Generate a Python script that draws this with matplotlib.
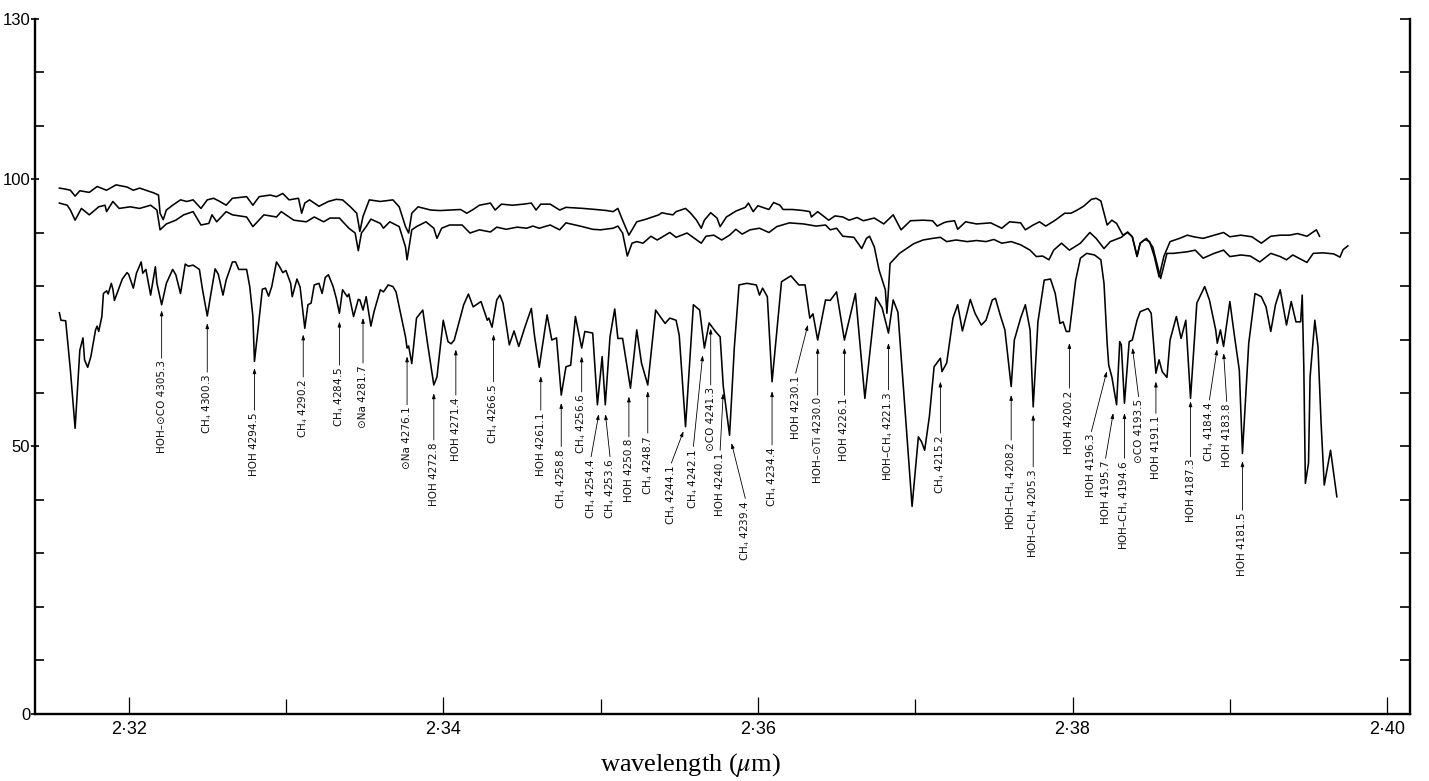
import matplotlib
matplotlib.use("Agg")
import matplotlib.pyplot as plt
from matplotlib.ticker import FuncFormatter

plt.rcParams['mathtext.fontset'] = 'stix'
plt.rcParams['font.family'] = ['Liberation Sans', 'DejaVu Sans']

# ---------------- data (wavelength in micron, relative intensity) ----------------
wl_a = [2.3156, 2.3160, 2.3163, 2.3166, 2.3169, 2.3175, 2.3180, 2.3186, 2.3192, 2.3199,
        2.3203, 2.3207, 2.3211, 2.3216, 2.3219, 2.3220, 2.3222, 2.3224, 2.3228, 2.3233,
        2.3237, 2.3241, 2.3246, 2.3250, 2.3254, 2.3258, 2.3262, 2.3266, 2.3275, 2.3279,
        2.3283, 2.3290, 2.3294, 2.3298, 2.3302, 2.3308, 2.3310, 2.3312, 2.3315, 2.3321,
        2.3327, 2.3332, 2.3336, 2.3341, 2.3345, 2.3347, 2.3349, 2.3353, 2.3360, 2.3368,
        2.3372, 2.3376, 2.3378, 2.3380, 2.3384, 2.3392, 2.3398, 2.3404, 2.3411, 2.3415,
        2.3419, 2.3423, 2.3430, 2.3433, 2.3437, 2.3444, 2.3451, 2.3456, 2.3459, 2.3462,
        2.3468, 2.3474, 2.3478, 2.3489, 2.3497, 2.3504, 2.3508, 2.3511, 2.3514, 2.3518,
        2.3523, 2.3529, 2.3537, 2.3539, 2.3542, 2.3546, 2.3548, 2.3554, 2.3557, 2.3561,
        2.3564, 2.3566, 2.3570, 2.3574, 2.3576, 2.3580, 2.3586, 2.3592, 2.3594, 2.3597,
        2.3600, 2.3607, 2.3610, 2.3614, 2.3616, 2.3622, 2.3629, 2.3633, 2.3634, 2.3638,
        2.3645, 2.3649, 2.3654, 2.3658, 2.3663, 2.3667, 2.3674, 2.3680, 2.3686, 2.3691,
        2.3697, 2.3705, 2.3711, 2.3714, 2.3718, 2.3720, 2.3725, 2.3727, 2.3732, 2.3739,
        2.3748, 2.3755, 2.3760, 2.3767, 2.3770, 2.3775, 2.3779, 2.3783, 2.3789, 2.3795,
        2.3799, 2.3803, 2.3807, 2.3812, 2.3815, 2.3818, 2.3822, 2.3825, 2.3828, 2.3832,
        2.3835, 2.3838, 2.3841, 2.3843, 2.3846, 2.3849, 2.3852, 2.3855, 2.3858, 2.3862,
        2.3868, 2.3873, 2.3877, 2.3883, 2.3890, 2.3896, 2.3900, 2.3907, 2.3914, 2.3920,
        2.3926, 2.3932, 2.3938, 2.3943, 2.3949, 2.3955, 2.3957]
val_a = [98.3, 98.1, 97.9, 96.8, 97.8, 97.5, 98.6, 97.9, 98.9, 98.5,
         97.9, 98.3, 97.9, 97.4, 97.0, 93.6, 92.4, 94.2, 95.1, 96.1,
         95.8, 96.1, 94.5, 96.1, 96.4, 95.8, 95.1, 96.4, 96.7, 95.1,
         96.7, 97.0, 96.7, 97.3, 96.1, 96.4, 93.6, 95.5, 96.1, 94.9,
         95.8, 96.2, 96.1, 94.8, 93.6, 90.2, 93.0, 96.1, 95.8, 96.1,
         94.8, 91.1, 89.9, 93.6, 94.8, 94.2, 94.1, 94.2, 94.3, 93.6,
         94.3, 95.1, 95.5, 94.2, 95.3, 95.1, 95.3, 95.5, 94.2, 95.3,
         95.3, 94.2, 94.7, 94.5, 94.3, 94.1, 93.9, 94.5, 92.3, 89.5,
         92.0, 92.5, 93.3, 93.7, 93.5, 93.3, 93.9, 94.5, 93.7, 92.3,
         90.8, 92.3, 93.7, 92.7, 91.1, 92.9, 94.0, 94.7, 95.5, 93.9,
         95.0, 94.3, 95.6, 95.1, 94.3, 94.3, 94.1, 93.9, 92.9, 93.9,
         92.3, 93.1, 92.9, 92.3, 92.8, 92.2, 92.7, 91.6, 93.3, 90.5,
         92.2, 92.3, 92.2, 91.2, 91.8, 92.0, 92.2, 90.6, 92.0, 91.6,
         91.8, 90.8, 92.0, 91.8, 90.5, 91.4, 92.0, 91.2, 92.3, 93.6,
         93.6, 94.2, 94.9, 96.2, 96.4, 95.9, 91.4, 92.3, 91.7, 89.5,
         90.0, 89.2, 85.6, 88.0, 88.7, 88.3, 85.5, 81.7, 85.5, 88.3,
         88.9, 89.5, 89.2, 88.9, 89.5, 90.0, 89.2, 89.5, 89.2, 88.0,
         89.3, 89.5, 89.5, 89.8, 89.3, 90.5, 89.3]

wl_b = [2.3156, 2.3161, 2.3163, 2.3166, 2.3170, 2.3175, 2.3181, 2.3185, 2.3186, 2.3190,
        2.3194, 2.3201, 2.3207, 2.3214, 2.3218, 2.3220, 2.3224, 2.3230, 2.3235, 2.3241,
        2.3246, 2.3251, 2.3253, 2.3256, 2.3262, 2.3266, 2.3275, 2.3279, 2.3286, 2.3294,
        2.3297, 2.3305, 2.3313, 2.3318, 2.3324, 2.3328, 2.3334, 2.3340, 2.3344, 2.3346,
        2.3348, 2.3351, 2.3354, 2.3360, 2.3362, 2.3366, 2.3372, 2.3376, 2.3377, 2.3380,
        2.3383, 2.3389, 2.3394, 2.3396, 2.3399, 2.3404, 2.3412, 2.3417, 2.3423, 2.3430,
        2.3434, 2.3440, 2.3447, 2.3453, 2.3457, 2.3461, 2.3468, 2.3474, 2.3478, 2.3487,
        2.3495, 2.3500, 2.3508, 2.3511, 2.3514, 2.3517, 2.3520, 2.3523, 2.3527, 2.3532,
        2.3536, 2.3544, 2.3548, 2.3555, 2.3564, 2.3567, 2.3572, 2.3577, 2.3582, 2.3586,
        2.3590, 2.3595, 2.3601, 2.3607, 2.3612, 2.3620, 2.3629, 2.3637, 2.3643, 2.3646,
        2.3650, 2.3654, 2.3661, 2.3666, 2.3669, 2.3671, 2.3674, 2.3677, 2.3681, 2.3682,
        2.3683, 2.3684, 2.3690, 2.3699, 2.3705, 2.3711, 2.3716, 2.3720, 2.3726, 2.3733,
        2.3739, 2.3745, 2.3750, 2.3755, 2.3761, 2.3767, 2.3773, 2.3777, 2.3781, 2.3785,
        2.3788, 2.3793, 2.3798, 2.3805, 2.3811, 2.3815, 2.3820, 2.3824, 2.3831, 2.3835,
        2.3838, 2.3841, 2.3843, 2.3847, 2.3851, 2.3856, 2.3860, 2.3864, 2.3873, 2.3878,
        2.3883, 2.3890, 2.3896, 2.3900, 2.3907, 2.3913, 2.3919, 2.3926, 2.3932, 2.3936,
        2.3940, 2.3949, 2.3953, 2.3959, 2.3966, 2.3970, 2.3972, 2.3975]
val_b = [95.5, 95.1, 94.2, 92.3, 94.5, 93.3, 94.8, 95.1, 93.9, 95.8,
         94.5, 94.8, 94.5, 95.1, 94.2, 90.5, 91.6, 92.3, 93.3, 93.9,
         91.4, 91.7, 93.3, 92.0, 93.9, 93.3, 92.9, 91.1, 93.3, 92.9,
         93.9, 92.3, 92.0, 92.9, 92.0, 92.7, 92.7, 90.8, 89.9, 86.6,
         89.9, 91.1, 92.5, 91.7, 90.8, 92.0, 91.1, 87.3, 84.9, 90.5,
         91.1, 92.0, 90.8, 88.9, 90.8, 91.4, 91.4, 89.9, 90.5, 90.1,
         91.0, 90.6, 91.0, 90.8, 91.2, 90.8, 91.4, 90.5, 91.8, 91.2,
         90.6, 90.5, 90.8, 91.2, 89.9, 85.6, 88.0, 88.3, 88.0, 89.3,
         88.6, 90.0, 89.1, 89.9, 88.0, 89.3, 89.5, 88.6, 89.5, 90.6,
         89.7, 90.5, 90.8, 90.0, 91.1, 91.8, 91.6, 91.2, 91.4, 90.5,
         90.8, 89.3, 89.1, 87.0, 88.9, 89.3, 87.3, 83.0, 79.3, 74.9,
         79.3, 84.2, 86.1, 87.9, 88.6, 88.9, 89.1, 88.3, 88.6, 88.3,
         88.5, 88.3, 88.7, 88.0, 88.3, 87.7, 86.7, 85.5, 85.6, 84.9,
         86.7, 88.0, 86.7, 88.0, 90.0, 88.9, 87.0, 88.3, 89.1, 90.1,
         89.2, 85.5, 88.0, 88.9, 87.3, 81.4, 86.1, 86.1, 86.4, 86.7,
         85.2, 86.1, 86.7, 85.5, 85.8, 85.6, 84.5, 86.1, 85.5, 84.9,
         85.8, 84.4, 86.1, 86.2, 86.0, 85.4, 86.8, 87.5]

wl_c = [2.3156, 2.3157, 2.3160, 2.3163, 2.3166, 2.3169, 2.3171, 2.3172, 2.3174, 2.3176,
        2.3179, 2.3180, 2.3181, 2.3183, 2.3184, 2.3186, 2.3187, 2.3189, 2.3190, 2.3191,
        2.3193, 2.3196, 2.3199, 2.3200, 2.3203, 2.3205, 2.3208, 2.3209, 2.3211, 2.3214,
        2.3217, 2.3218, 2.3221, 2.3224, 2.3228, 2.3230, 2.3233, 2.3236, 2.3238, 2.3241,
        2.3245, 2.3247, 2.3250, 2.3252, 2.3255, 2.3257, 2.3260, 2.3262, 2.3266, 2.3268,
        2.3270, 2.3275, 2.3277, 2.3279, 2.3280, 2.3282, 2.3285, 2.3287, 2.3289, 2.3291,
        2.3294, 2.3296, 2.3298, 2.3300, 2.3303, 2.3304, 2.3307, 2.3309, 2.3312, 2.3314,
        2.3316, 2.3318, 2.3321, 2.3323, 2.3325, 2.3327, 2.3330, 2.3332, 2.3334, 2.3336,
        2.3339, 2.3340, 2.3343, 2.3346, 2.3347, 2.3349, 2.3351, 2.3354, 2.3356, 2.3360,
        2.3362, 2.3365, 2.3368, 2.3370, 2.3372, 2.3376, 2.3377, 2.3378, 2.3380, 2.3383,
        2.3387, 2.3390, 2.3394, 2.3396, 2.3400, 2.3403, 2.3405, 2.3407, 2.3413, 2.3416,
        2.3419, 2.3424, 2.3428, 2.3429, 2.3431, 2.3434, 2.3436, 2.3438, 2.3442, 2.3445,
        2.3448, 2.3452, 2.3456, 2.3458, 2.3461, 2.3466, 2.3469, 2.3472, 2.3475, 2.3478,
        2.3481, 2.3484, 2.3488, 2.3490, 2.3495, 2.3498, 2.3501, 2.3503, 2.3506, 2.3509,
        2.3511, 2.3514, 2.3519, 2.3523, 2.3526, 2.3530, 2.3535, 2.3541, 2.3544, 2.3548,
        2.3550, 2.3554, 2.3559, 2.3563, 2.3566, 2.3569, 2.3573, 2.3576, 2.3578, 2.3582,
        2.3585, 2.3588, 2.3593, 2.3599, 2.3601, 2.3603, 2.3606, 2.3609, 2.3615, 2.3621,
        2.3626, 2.3630, 2.3633, 2.3635, 2.3638, 2.3643, 2.3646, 2.3650, 2.3655, 2.3662,
        2.3668, 2.3675, 2.3679, 2.3683, 2.3686, 2.3689, 2.3698, 2.3702, 2.3704, 2.3706,
        2.3709, 2.3712, 2.3716, 2.3717, 2.3720, 2.3724, 2.3727, 2.3730, 2.3735, 2.3738,
        2.3742, 2.3745, 2.3749, 2.3751, 2.3754, 2.3757, 2.3761, 2.3763, 2.3767, 2.3770,
        2.3773, 2.3775, 2.3778, 2.3782, 2.3786, 2.3789, 2.3792, 2.3794, 2.3796, 2.3798,
        2.3802, 2.3805, 2.3809, 2.3814, 2.3818, 2.3820, 2.3822, 2.3823, 2.3825, 2.3828,
        2.3830, 2.3831, 2.3833, 2.3836, 2.3838, 2.3841, 2.3843, 2.3848, 2.3850, 2.3853,
        2.3855, 2.3857, 2.3860, 2.3862, 2.3866, 2.3869, 2.3872, 2.3875, 2.3879, 2.3884,
        2.3887, 2.3891, 2.3892, 2.3894, 2.3896, 2.3900, 2.3903, 2.3906, 2.3908, 2.3912,
        2.3916, 2.3920, 2.3923, 2.3926, 2.3929, 2.3932, 2.3936, 2.3939, 2.3942, 2.3945,
        2.3946, 2.3947, 2.3948, 2.3950, 2.3951, 2.3954, 2.3956, 2.3958, 2.3960, 2.3964,
        2.3968]
val_c = [75.0, 73.6, 73.5, 64.3, 53.4, 68.0, 70.3, 66.2, 64.8, 66.8,
         71.8, 72.5, 71.5, 74.3, 78.6, 79.1, 78.5, 80.5, 79.4, 77.3,
         78.9, 81.3, 82.5, 82.2, 79.6, 82.4, 84.5, 82.4, 83.1, 78.3,
         83.6, 80.5, 76.5, 80.5, 83.1, 82.1, 78.6, 84.1, 83.7, 83.9,
         83.1, 79.3, 74.4, 78.0, 83.2, 82.2, 78.3, 81.1, 84.5, 84.5,
         83.1, 83.1, 79.9, 74.3, 65.9, 71.2, 79.4, 79.6, 78.1, 79.9,
         84.5, 83.6, 82.5, 82.9, 80.5, 78.0, 81.3, 79.8, 72.1, 76.5,
         76.8, 80.2, 80.5, 78.6, 81.6, 82.1, 79.9, 77.7, 74.9, 79.3,
         78.0, 78.5, 74.3, 77.5, 77.4, 75.5, 78.0, 72.5, 75.2, 79.3,
         78.9, 80.2, 79.9, 78.9, 76.1, 70.5, 68.4, 68.8, 65.5, 74.0,
         75.5, 69.3, 61.5, 63.0, 73.6, 69.6, 69.2, 69.9, 76.5, 78.5,
         76.1, 77.1, 73.6, 74.0, 72.3, 77.4, 78.3, 76.8, 69.0, 71.6,
         68.7, 72.4, 75.8, 70.7, 64.8, 74.6, 69.9, 70.3, 59.6, 64.9,
         65.2, 74.3, 68.4, 71.5, 71.2, 57.8, 66.8, 57.8, 70.5, 75.7,
         70.2, 70.2, 60.9, 71.8, 65.6, 61.5, 75.5, 73.0, 74.0, 73.6,
         70.8, 53.7, 76.5, 75.5, 68.4, 73.1, 71.5, 70.5, 61.2, 52.1,
         68.4, 80.2, 80.5, 80.2, 78.3, 79.6, 78.0, 62.1, 80.8, 81.9,
         80.2, 80.2, 74.0, 74.8, 69.9, 77.4, 77.3, 78.9, 69.9, 78.6,
         59.0, 77.9, 75.9, 71.2, 77.4, 75.1, 38.8, 51.8, 50.9, 49.3,
         55.6, 64.9, 66.5, 64.0, 65.6, 74.0, 76.5, 71.6, 77.5, 74.9,
         72.7, 73.6, 77.4, 77.7, 74.6, 71.8, 61.2, 69.9, 74.0, 76.5,
         71.8, 57.4, 73.3, 81.1, 81.3, 78.6, 73.0, 73.3, 71.5, 71.5,
         81.1, 85.2, 86.1, 85.8, 84.9, 80.5, 69.3, 65.2, 63.0, 57.8,
         69.6, 69.0, 58.1, 69.6, 69.9, 73.6, 75.2, 75.8, 74.9, 63.7,
         66.2, 64.0, 62.9, 69.9, 74.3, 70.2, 73.6, 59.0, 76.8, 79.9,
         77.4, 71.8, 69.3, 71.8, 68.7, 77.1, 70.5, 64.3, 48.7, 69.3,
         78.6, 78.0, 76.1, 71.5, 76.5, 79.3, 72.7, 77.1, 73.3, 73.3,
         78.3, 64.9, 43.1, 46.9, 63.0, 73.6, 68.7, 54.3, 42.8, 49.3,
         40.6]

# line identifications
line_labels = ["HOH–⊙CO 4305.3", "CH$_4$ 4300.3", "HOH 4294.5", "CH$_4$ 4290.2",
               "CH$_4$ 4284.5", "⊙Na 4281.7", "⊙Na 4276.1", "HOH 4272.8",
               "HOH 4271.4", "CH$_4$ 4266.5", "HOH 4261.1", "CH$_4$ 4258.8",
               "CH$_4$ 4256.6", "CH$_4$ 4254.4", "CH$_4$ 4253.6", "HOH 4250.8",
               "CH$_4$ 4248.7", "CH$_4$ 4244.1", "CH$_4$ 4242.1", "⊙CO 4241.3",
               "HOH 4240.1", "CH$_4$ 4239.4", "CH$_4$ 4234.4", "HOH 4230.1",
               "HOH–⊙Ti 4230.0", "HOH 4226.1", "HOH–CH$_4$ 4221.3", "CH$_4$ 4215.2",
               "HOH–CH$_4$ 4208.2", "HOH–CH$_4$ 4205.3", "HOH 4200.2", "HOH 4196.3",
               "HOH 4195.7", "HOH–CH$_4$ 4194.6", "⊙CO 4193.5", "HOH 4191.1",
               "HOH 4187.3", "CH$_4$ 4184.4", "HOH 4183.8", "HOH 4181.5"]
tip_wl = [2.3221, 2.3250, 2.3280, 2.3311, 2.3334, 2.3349, 2.3377, 2.3394, 2.3408, 2.3432,
          2.3462, 2.3475, 2.3488, 2.3499, 2.3503, 2.3518, 2.3530, 2.3553, 2.3565, 2.3570,
          2.3578, 2.3583, 2.3609, 2.3632, 2.3638, 2.3655, 2.3683, 2.3716, 2.3761, 2.3775,
          2.3798, 2.3822, 2.3826, 2.3833, 2.3838, 2.3853, 2.3875, 2.3892, 2.3896, 2.3908]
tip_val = [75.7, 73.3, 64.9, 71.2, 73.6, 74.3, 67.1, 60.2, 68.4, 71.2,
           63.4, 58.4, 67.1, 56.3, 56.3, 59.6, 60.6, 53.1, 67.3, 72.3,
           60.2, 50.9, 60.6, 73.0, 68.7, 68.7, 69.6, 62.4, 59.9, 56.2,
           69.6, 64.3, 56.5, 56.5, 68.7, 62.4, 58.7, 68.4, 67.7, 47.5]
label_wl = [2.3221, 2.3250, 2.3280, 2.3311, 2.3334, 2.3349, 2.3377, 2.3394, 2.3408, 2.3432,
            2.3462, 2.3475, 2.3488, 2.3494, 2.3506, 2.3518, 2.3530, 2.3545, 2.3559, 2.3570,
            2.3576, 2.3592, 2.3609, 2.3624, 2.3638, 2.3655, 2.3683, 2.3716, 2.3761, 2.3775,
            2.3798, 2.3812, 2.3821, 2.3833, 2.3842, 2.3853, 2.3875, 2.3887, 2.3898, 2.3908]
label_top = [66.5, 63.9, 56.8, 63.0, 65.2, 65.6, 57.8, 51.2, 59.6, 62.1,
             56.8, 50.0, 60.2, 48.1, 48.1, 51.8, 52.5, 46.9, 50.0, 61.5,
             49.3, 40.3, 50.3, 63.7, 59.6, 59.6, 60.6, 52.5, 51.2, 46.2,
             60.9, 52.8, 47.8, 47.8, 59.3, 56.2, 48.1, 58.7, 58.4, 38.1]

x_major = [2.32, 2.34, 2.36, 2.38, 2.40]
x_minor = [2.33, 2.35, 2.37, 2.39]
y_major = [0, 50, 100, 130]
y_minor = [10, 20, 30, 40, 60, 70, 80, 90, 110, 120]
y_right = [10, 20, 30, 40, 50, 60, 70, 80, 90, 100, 110, 120, 130]

# ---------------- figure ----------------
fig = plt.figure(figsize=(14.29, 7.81), dpi=100)
ax = fig.add_axes([0.02449, 0.08579, 0.96221, 0.89052])
ax.set_xlim(2.31405, 2.40145)
ax.set_ylim(0, 130)

for xs, ys in ((wl_a, val_a), (wl_b, val_b), (wl_c, val_c)):
    ax.plot(xs, ys, color='black', lw=1.15, solid_joinstyle='round')

for lab, tx, tv, lx, lt in zip(line_labels, tip_wl, tip_val, label_wl, label_top):
    ax.annotate(lab, xy=(lx, lt), xytext=(0, -1.5), textcoords='offset points',
                rotation=90, ha='center', va='top', fontsize=7.5,
                family=['DejaVu Sans'], color='#111111')
    ax.annotate('', xy=(tx, tv), xytext=(lx, lt),
                arrowprops=dict(arrowstyle='-|>,head_length=0.3,head_width=0.1',
                                lw=0.6, color='black', shrinkA=0, shrinkB=1))

ax.spines['top'].set_visible(False)
ax.spines['right'].set_visible(False)
for s in ('left', 'bottom'):
    ax.spines[s].set_linewidth(1.7)

ax.set_xticks(x_major)
ax.set_xticks(x_minor, minor=True)
ax.xaxis.set_major_formatter(FuncFormatter(lambda v, p: f"{v:.2f}".replace('.', '·')))
ax.tick_params(axis='x', which='major', direction='in', length=12, width=0.9,
               labelsize=13, pad=5)
ax.tick_params(axis='x', which='minor', direction='in', length=11, width=0.9)

ax.set_yticks(y_major)
ax.set_yticks(y_minor, minor=True)
ax.set_yticklabels([str(v) for v in y_major])
ax.tick_params(axis='y', which='major', direction='inout', length=6, width=1.2,
               labelsize=12, pad=0.5)
ax.tick_params(axis='y', which='minor', direction='in', length=6.5, width=1.2)

ax2 = ax.twinx()
ax2.set_ylim(0, 130)
ax2.set_yticks(y_right)
ax2.tick_params(axis='y', direction='in', length=7, width=1.2, labelright=False)
for s in ('top', 'left', 'bottom'):
    ax2.spines[s].set_visible(False)
ax2.spines['right'].set_linewidth(1.7)

fig.text(0.483, 0.0205, 'wavelength ($\\mu$m)', ha='center', va='center',
         fontsize=19, family=['Liberation Serif', 'DejaVu Serif'])

fig.savefig('out.png', dpi=100, facecolor='white')
